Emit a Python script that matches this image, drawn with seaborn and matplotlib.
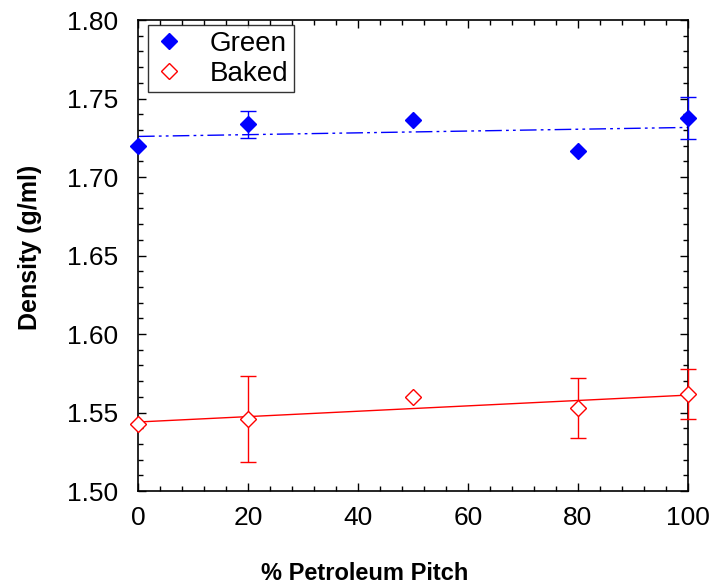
import numpy as np
import pandas as pd
import matplotlib
matplotlib.use("Agg")
import matplotlib.pyplot as plt
from matplotlib.lines import Line2D
from matplotlib.ticker import MultipleLocator, FormatStrFormatter
import seaborn as sns

# Density of green and baked samples vs. petroleum pitch content
pitch = [0, 20, 50, 80, 100]
green_density = [1.7195, 1.7335, 1.7365, 1.7165, 1.7375]
green_err = [0.0, 0.0088, 0.0, 0.0, 0.0133]
baked_density = [1.5427, 1.5457, 1.5597, 1.5527, 1.5618]
baked_err = [0.0, 0.0273, 0.0, 0.019, 0.016]

sns.set_style("ticks")
plt.rcParams["font.family"] = ["Liberation Sans", "DejaVu Sans"]
for key in ["text.color", "axes.labelcolor", "xtick.color", "ytick.color",
            "xtick.labelcolor", "ytick.labelcolor"]:
    plt.rcParams[key] = "black"

df = pd.DataFrame({
    "pitch": pitch * 2,
    "density": green_density + baked_density,
    "err": green_err + baked_err,
    "sample": ["Green"] * 5 + ["Baked"] * 5,
})

colors = {"Green": "#0000ff", "Baked": "#ff0000"}

fig = plt.figure(figsize=(7.15, 5.87), dpi=100)
ax = fig.add_axes([138 / 715, 1 - 491 / 587, 550 / 715, 471 / 587])

# linear fits
sns.regplot(data=df[df["sample"] == "Green"], x="pitch", y="density",
            scatter=False, ci=None, ax=ax, color=colors["Green"],
            line_kws=dict(lw=1.0, dashes=(12, 3, 2, 3, 2, 3)))
sns.regplot(data=df[df["sample"] == "Baked"], x="pitch", y="density",
            scatter=False, ci=None, ax=ax, color=colors["Baked"],
            line_kws=dict(lw=1.0))

# error bars where a spread was measured
for name in ["Green", "Baked"]:
    sub = df[(df["sample"] == name) & (df["err"] > 0)]
    eb = ax.errorbar(sub["pitch"], sub["density"], yerr=sub["err"], fmt="none",
                     ecolor=colors[name], elinewidth=1.0, capsize=6,
                     capthick=1.0, zorder=3)
    for art in eb.lines[1] + eb.lines[2]:
        art.set_clip_on(False)

# markers
g = df[df["sample"] == "Green"]
b = df[df["sample"] == "Baked"]
ax.plot(g["pitch"], g["density"], ls="none", marker="D", ms=8.5,
        mfc=colors["Green"], mec=colors["Green"], mew=1.0, zorder=4,
        clip_on=False)
ax.plot(b["pitch"], b["density"], ls="none", marker="D", ms=8.5,
        mfc="white", mec=colors["Baked"], mew=1.0, zorder=4, clip_on=False)

ax.set_xlim(0, 100)
ax.set_ylim(1.50, 1.80)
ax.xaxis.set_major_locator(MultipleLocator(20))
ax.xaxis.set_minor_locator(MultipleLocator(4))
ax.yaxis.set_major_locator(MultipleLocator(0.05))
ax.yaxis.set_minor_locator(MultipleLocator(0.01))
ax.yaxis.set_major_formatter(FormatStrFormatter("%.2f"))
ax.tick_params(which="both", direction="in", top=True, right=True,
               color="black", width=1.0)
ax.tick_params(which="major", length=6, labelsize=19)
ax.tick_params(which="minor", length=3.5)
ax.tick_params(axis="y", which="major", pad=14)
ax.tick_params(axis="x", which="major", pad=11)
for s in ax.spines.values():
    s.set_color("black")
    s.set_linewidth(1.2)

ax.set_xlabel("% Petroleum Pitch", fontsize=17, fontweight="bold")
ax.set_ylabel("Density (g/ml)", fontsize=18, fontweight="bold")
ax.xaxis.set_label_coords(0.413, -0.151)
ax.yaxis.set_label_coords(-0.1745, 0.518)

handles = [
    Line2D([], [], ls="none", marker="D", ms=8.5, mfc=colors["Green"],
           mec=colors["Green"]),
    Line2D([], [], ls="none", marker="D", ms=8.5, mfc="white",
           mec=colors["Baked"]),
]
leg = ax.legend(handles, ["Green", "Baked"], loc="upper left",
                bbox_to_anchor=(0.018, 0.989), borderaxespad=0,
                fontsize=20, frameon=True, fancybox=False,
                edgecolor="black", handletextpad=0.93, borderpad=0.2,
                labelspacing=0.15, handlelength=1.1)
leg.get_frame().set_linewidth(1.0)

fig.savefig("out.png", dpi=100)
